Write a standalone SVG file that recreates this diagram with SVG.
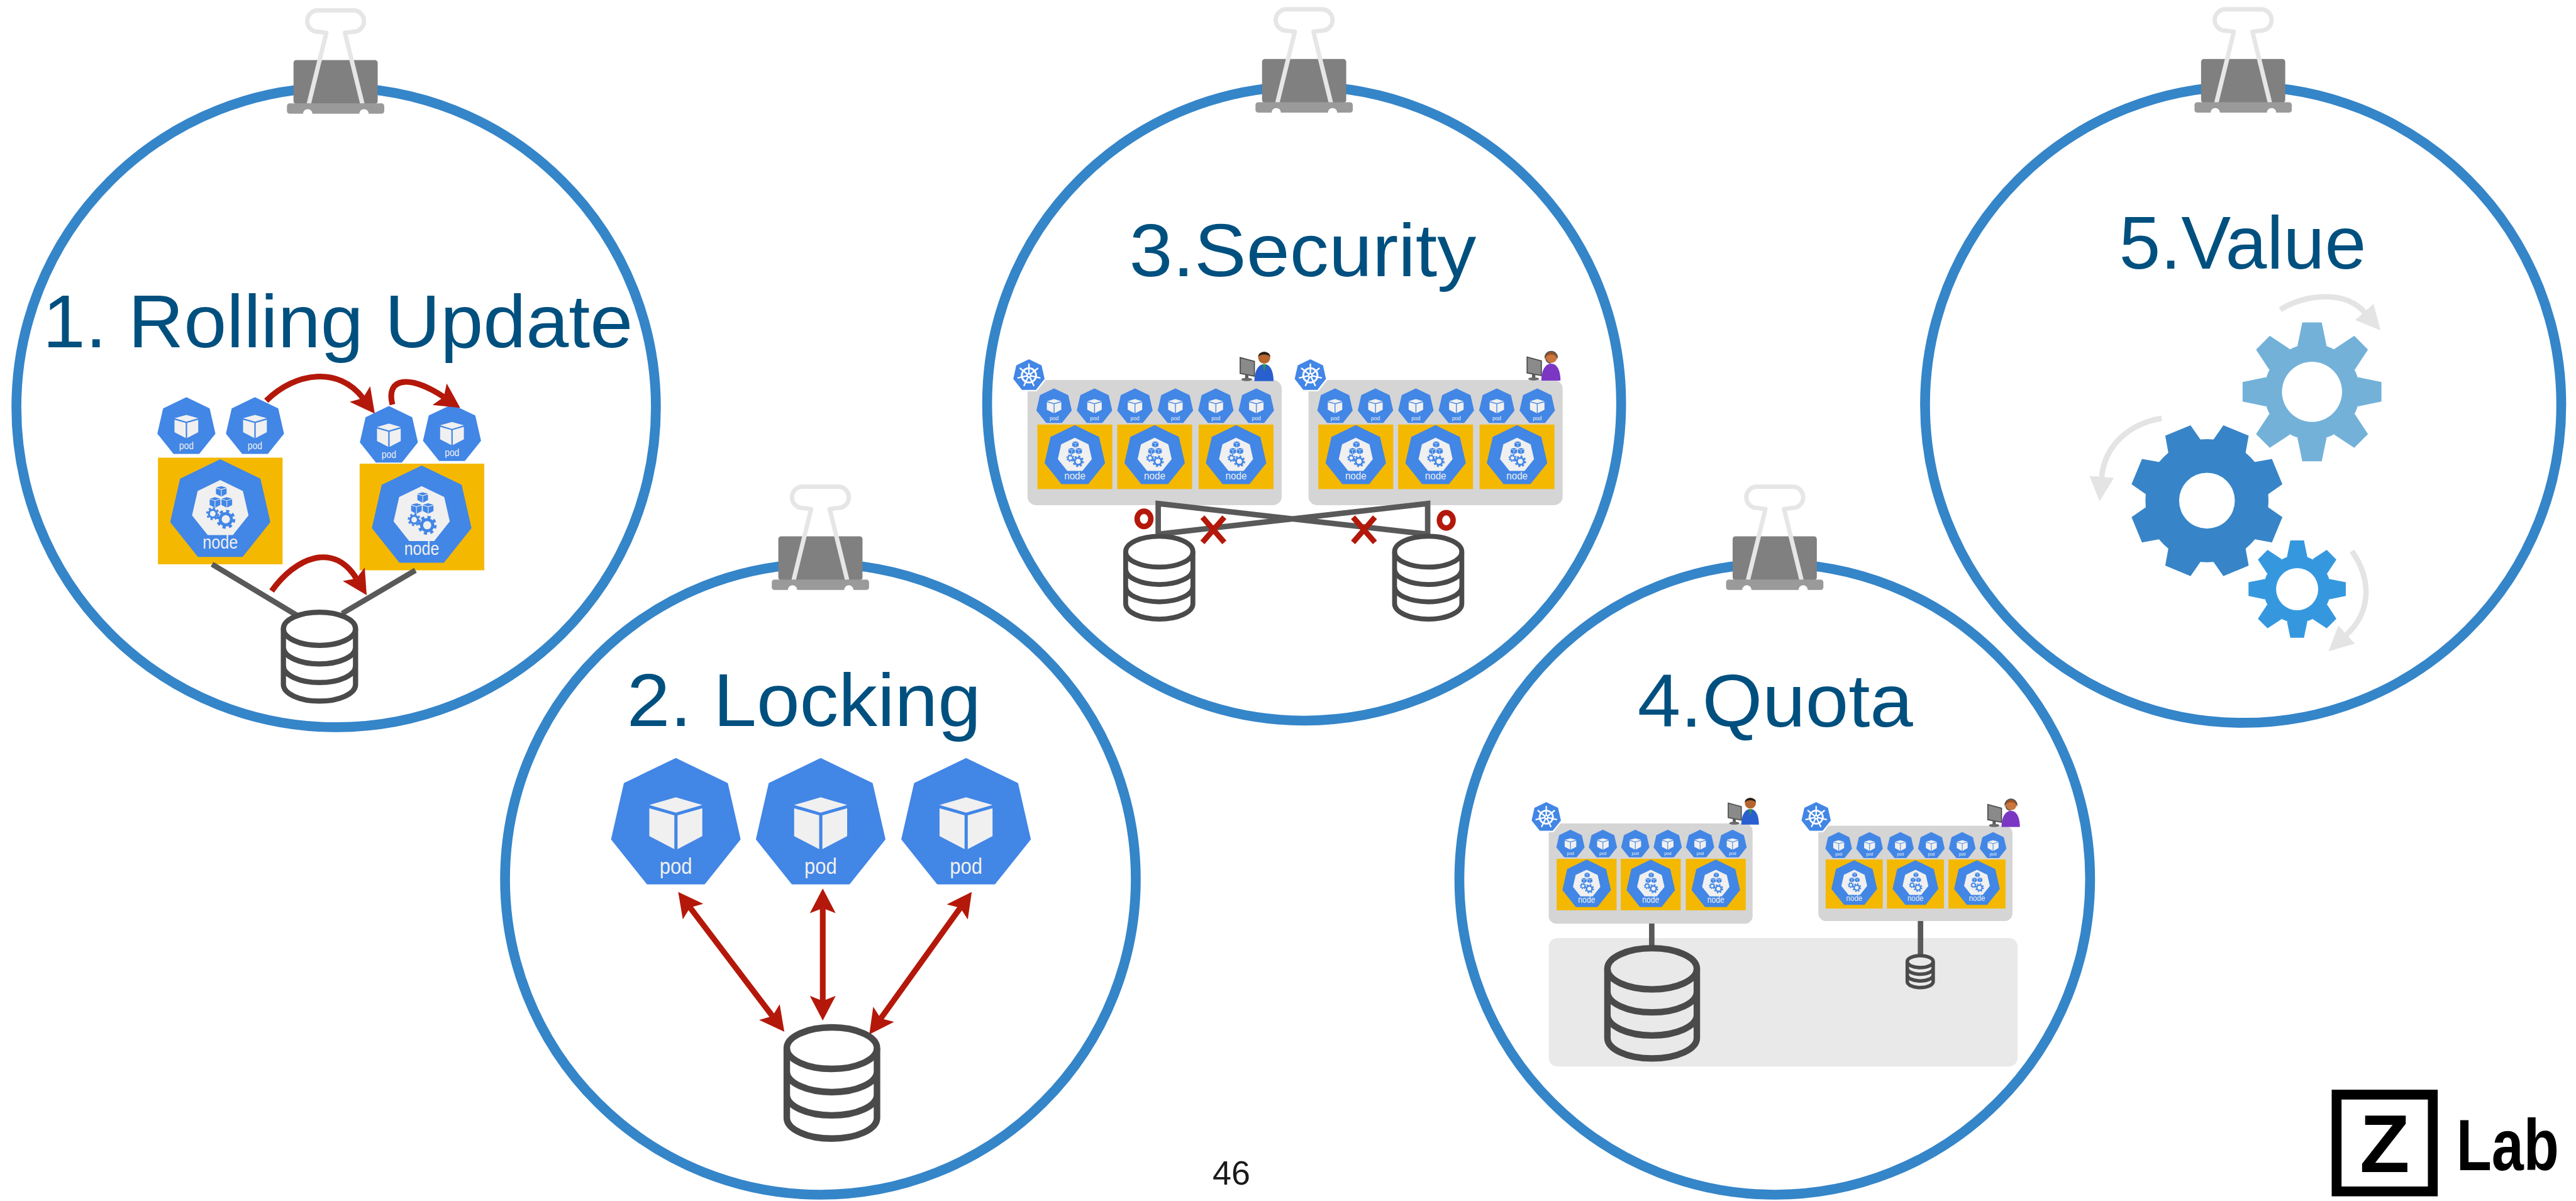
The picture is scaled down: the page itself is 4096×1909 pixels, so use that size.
<svg xmlns="http://www.w3.org/2000/svg" width="4096" height="1909" viewBox="0 0 4096 1909">
<defs>
<style>
  text { font-family: "Liberation Sans", Arial, "DejaVu Sans", sans-serif; }
  .ring { fill: none; stroke: #3585c9; stroke-width: 18; }
  .title { font-size: 136px; fill: #00507f; }
  .kb { fill: #4286e6; stroke: #4286e6; stroke-width: 4; stroke-linejoin: round; }
  .lbl { fill: #f0f0f0; text-anchor: middle; }
  .ybox { fill: #f5b800; }
  .panel { fill: #d5d5d5; }
  .pool { fill: #e9e9e9; }
  .wire { fill: none; stroke: #595959; stroke-width: 10; }
  .dbl { fill: none; stroke: #4a4a4a; }
  .red { fill: none; stroke: #b4180a; stroke-width: 10.5; }
  .mark { fill: none; stroke: #b4180a; stroke-width: 10; }
  .rot { fill: none; stroke: #e4e4e4; stroke-width: 10; }
</style>

<!-- red arrow heads (end and reversed start) -->
<marker id="redhead" viewBox="0 0 44 46" refX="9" refY="23" markerWidth="4.3" markerHeight="4.5" orient="auto" markerUnits="strokeWidth">
  <path d="M0,0 L44,23 L0,46 L9,23 Z" fill="#b4180a"/>
</marker>
<marker id="redtail" viewBox="0 0 44 46" refX="35" refY="23" markerWidth="4.3" markerHeight="4.5" orient="auto" markerUnits="strokeWidth">
  <path d="M44,0 L0,23 L44,46 L35,23 Z" fill="#b4180a"/>
</marker>
<marker id="grayhead" viewBox="0 0 46 46" refX="2" refY="23" markerWidth="4.5" markerHeight="4.5" orient="auto" markerUnits="strokeWidth">
  <path d="M0,0 L46,23 L0,46 Z" fill="#e4e4e4"/>
</marker>

<!-- binder clip, origin at top centre of a ring -->
<g id="clip">
  <rect x="-77" y="-50" width="154" height="80" rx="5" fill="#808080"/>
  <path d="M-49,30 L-17,-100 L-32.5,-102 A19.5,19.5 0 0 1 -32.5,-141 L32.5,-141 A19.5,19.5 0 0 1 32.5,-102 L17,-100 L49,30" fill="none" stroke="#e6e6e6" stroke-width="8" stroke-linejoin="round"/>
  <rect x="-89" y="29" width="178" height="19" rx="5" fill="#9a9a9a"/>
  <circle cx="-51" cy="48" r="8.5" fill="#fff"/>
  <circle cx="52" cy="48" r="8.5" fill="#fff"/>
</g>

<!-- isometric cube (pod glyph), unit = heptagon radius 100 -->
<g id="cube">
  <polygon points="-40.8,-30.1 0,-41.8 40.7,-30.1 0,-18.2"/>
  <polygon points="-40.8,-24.9 -2.3,-14.1 -2.3,37.9 -40.8,17.9"/>
  <polygon points="2.6,-14.1 40.7,-24.9 40.7,17.9 2.6,37.9"/>
</g>

<!-- small cog used inside node icon, outer radius 10 -->
<g id="cog">
  <circle r="7.5" fill="#4286e6"/>
  <circle r="8.6" fill="none" stroke="#4286e6" stroke-width="2.8" stroke-dasharray="3.38 3.38"/>
  <circle r="4.3" fill="#f0f0f0"/>
</g>

<!-- pod icon -->
<g id="pod">
  <polygon class="kb" points="0,-100 78.18,-62.35 97.49,22.25 43.39,90.1 -43.39,90.1 -97.49,22.25 -78.18,-62.35"/>
  <use href="#cube" fill="#f0f0f0"/>
  <text class="lbl" y="76" font-size="34" textLength="50" lengthAdjust="spacingAndGlyphs">pod</text>
</g>

<!-- node icon -->
<g id="node">
  <polygon class="kb" points="0,-100 78.18,-62.35 97.49,22.25 43.39,90.1 -43.39,90.1 -97.49,22.25 -78.18,-62.35"/>
  <polygon fill="#f0f0f0" points="0,-60.9 45.03,-39.21 56.15,9.52 24.99,48.6 -24.99,48.6 -56.15,9.52 -45.03,-39.21"/>
  <use href="#cube" fill="#4286e6" transform="translate(2,-38) scale(0.26)"/>
  <use href="#cube" fill="#4286e6" transform="translate(-10.5,-16) scale(0.26)"/>
  <use href="#cube" fill="#4286e6" transform="translate(13,-16) scale(0.26)"/>
  <use href="#cog" transform="translate(-15,6) scale(1.3)"/>
  <use href="#cog" transform="translate(11,17) scale(1.9)"/>
  <text class="lbl" y="76" font-size="36" textLength="70" lengthAdjust="spacingAndGlyphs">node</text>
</g>

<!-- kubernetes helm logo -->
<g id="k8s">
  <polygon points="0,-100 78.18,-62.35 97.49,22.25 43.39,90.1 -43.39,90.1 -97.49,22.25 -78.18,-62.35" fill="#4286e6" stroke="#fff" stroke-width="9" stroke-linejoin="round"/>
  <circle r="42" fill="none" stroke="#fff" stroke-width="11"/>
  <path d="M0,0 V-66 M0,0 L51.6,-41.1 M0,0 L64.3,14.7 M0,0 L28.6,59.5 M0,0 L-28.6,59.5 M0,0 L-64.3,14.7 M0,0 L-51.6,-41.1" stroke="#fff" stroke-width="9" stroke-linecap="round"/>
  <circle r="14" fill="#fff"/>
  <circle r="6" fill="#4286e6"/>
</g>

<!-- database cylinder; stroke width given by the instance -->
<g id="db">
  <ellipse class="dbl" cx="0" cy="0" rx="100" ry="46"/>
  <path class="dbl" d="M-100,0 V154.5 A100,46 0 0 0 100,154.5 V0 M-100,51.5 A100,46 0 0 0 100,51.5 M-100,103 A100,46 0 0 0 100,103"/>
</g>

<!-- operator at a monitor -->
<g id="user-a">
  <path d="M27,59 C27,41 34,28 45,28 C56,28 62,41 62,59 Z" fill="#2a5fcf"/>
  <path d="M42,28 L45,42 L48,28 Z" fill="#2d9a3a"/>
  <circle cx="45" cy="16" r="11" fill="#b5652d"/>
  <path d="M34,15 C33,3 57,3 56,15 C53,9 37,9 34,15 Z" fill="#1e1e1e"/>
  <polygon points="1,16 27,23 27,50 1,45" fill="#8a8a8a" stroke="#4a4a4a" stroke-width="2"/>
  <rect x="10" y="47" width="6" height="8" fill="#5a5a5a"/>
  <ellipse cx="13" cy="56" rx="10" ry="3" fill="#6a6a6a"/>
</g>
<g id="user-b">
  <path d="M27,59 C27,41 34,28 45,28 C56,28 62,41 62,59 Z" fill="#7b37c4"/>
  <circle cx="45" cy="16" r="11" fill="#c9773d"/>
  <path d="M33,20 C30,3 60,3 57,20 C55,10 37,8 33,20 Z" fill="#a4511d"/>
  <path d="M34,17 A11,11 0 0 1 56,17" fill="none" stroke="#555" stroke-width="2.5"/>
  <path d="M35,19 Q37,27 44,27" fill="none" stroke="#555" stroke-width="2"/>
  <polygon points="1,16 27,23 27,50 1,45" fill="#8a8a8a" stroke="#4a4a4a" stroke-width="2"/>
  <rect x="10" y="47" width="6" height="8" fill="#5a5a5a"/>
  <ellipse cx="13" cy="56" rx="10" ry="3" fill="#6a6a6a"/>
</g>

<!-- big cogs -->
<polygon id="toothA" points="-14,-100 14,-100 21,-66 -21,-66"/>
<polygon id="toothB" points="-18,-100 18,-100 23,-77 -23,-77"/>
<g id="gearA">
  <circle r="69"/>
  <use href="#toothA"/>
  <use href="#toothA" transform="rotate(45)"/>
  <use href="#toothA" transform="rotate(90)"/>
  <use href="#toothA" transform="rotate(135)"/>
  <use href="#toothA" transform="rotate(180)"/>
  <use href="#toothA" transform="rotate(225)"/>
  <use href="#toothA" transform="rotate(270)"/>
  <use href="#toothA" transform="rotate(315)"/>
  <circle r="43.3" fill="#fff"/>
</g>
<g id="gearB">
  <circle r="81"/>
  <use href="#toothB" transform="rotate(22.5)"/>
  <use href="#toothB" transform="rotate(67.5)"/>
  <use href="#toothB" transform="rotate(112.5)"/>
  <use href="#toothB" transform="rotate(157.5)"/>
  <use href="#toothB" transform="rotate(202.5)"/>
  <use href="#toothB" transform="rotate(247.5)"/>
  <use href="#toothB" transform="rotate(292.5)"/>
  <use href="#toothB" transform="rotate(337.5)"/>
  <circle r="36.7" fill="#fff"/>
</g>
</defs>

<rect width="4096" height="1909" fill="#fff"/>

<g transform="scale(0.86909)">

  <!-- five rings with binder clips -->
  <g id="frames">
    <circle class="ring" cx="615" cy="745" r="585"/>
    <circle class="ring" cx="1501" cy="1608" r="577"/>
    <circle class="ring" cx="2386" cy="738" r="580"/>
    <circle class="ring" cx="3247" cy="1608" r="577"/>
    <circle class="ring" cx="4104" cy="740" r="582"/>
    <use href="#clip" transform="translate(614,160)"/>
    <use href="#clip" transform="translate(1501,1031)"/>
    <use href="#clip" transform="translate(2386,158)"/>
    <use href="#clip" transform="translate(3247,1031)"/>
    <use href="#clip" transform="translate(4104,158)"/>
  </g>

  <g id="titles">
    <text class="title" x="78" y="635" textLength="1080" lengthAdjust="spacingAndGlyphs">1. Rolling Update</text>
    <text class="title" x="1147" y="1328" textLength="648" lengthAdjust="spacingAndGlyphs">2. Locking</text>
    <text class="title" x="2066" y="505" textLength="635" lengthAdjust="spacingAndGlyphs">3.Security</text>
    <text class="title" x="2996" y="1329" textLength="504" lengthAdjust="spacingAndGlyphs">4.Quota</text>
    <text class="title" x="3877" y="491" textLength="452" lengthAdjust="spacingAndGlyphs">5.Value</text>
  </g>

  <!-- 1. rolling update -->
  <g id="rolling-update">
    <rect id="ru-box-1" class="ybox" x="289" y="837" width="228" height="195"/>
    <rect id="ru-box-2" class="ybox" x="658" y="848" width="228" height="195"/>
    <use id="ru-node-1" href="#node" transform="translate(403,934) scale(0.92)"/>
    <use id="ru-node-2" href="#node" transform="translate(771.5,945) scale(0.915)"/>
    <use id="ru-pod-1" href="#pod" transform="translate(341,781) scale(0.533)"/>
    <use id="ru-pod-2" href="#pod" transform="translate(466.5,781) scale(0.533)"/>
    <use id="ru-pod-3" href="#pod" transform="translate(711.5,797) scale(0.533)"/>
    <use id="ru-pod-4" href="#pod" transform="translate(827,794) scale(0.533)"/>
  </g>

  <!-- 2. locking -->
  <g id="locking">
    <use id="lk-pod-1" href="#pod" transform="translate(1236.5,1508) scale(1.19)"/>
    <use id="lk-pod-2" href="#pod" transform="translate(1501.5,1508) scale(1.19)"/>
    <use id="lk-pod-3" href="#pod" transform="translate(1767.5,1508) scale(1.19)"/>
  </g>

  <!-- 3. security: two clusters -->
  <g id="security">
    <g id="sec-cluster-a">
      <rect class="panel" x="1880" y="695" width="465" height="229" rx="16"/>
      <use href="#pod" transform="translate(1928.5,743.5) scale(0.325)"/>
      <use href="#pod" transform="translate(2002.5,743.5) scale(0.325)"/>
      <use href="#pod" transform="translate(2076.5,743.5) scale(0.325)"/>
      <use href="#pod" transform="translate(2150.5,743.5) scale(0.325)"/>
      <use href="#pod" transform="translate(2224.5,743.5) scale(0.325)"/>
      <use href="#pod" transform="translate(2298.5,743.5) scale(0.325)"/>
      <rect class="ybox" x="1898" y="776.5" width="137" height="118"/>
      <rect class="ybox" x="2044" y="776.5" width="137" height="118"/>
      <rect class="ybox" x="2193" y="776.5" width="137" height="118"/>
      <use href="#node" transform="translate(1966.5,834.3) scale(0.555)"/>
      <use href="#node" transform="translate(2112.5,834.3) scale(0.555)"/>
      <use href="#node" transform="translate(2261.5,834.3) scale(0.555)"/>
      <use href="#k8s" transform="translate(1882.5,686.5) scale(0.31)"/>
      <use href="#user-a" transform="translate(2268,638)"/>
    </g>
    <g id="sec-cluster-b">
      <rect class="panel" x="2394" y="695" width="465" height="229" rx="16"/>
      <use href="#pod" transform="translate(2442.5,743.5) scale(0.325)"/>
      <use href="#pod" transform="translate(2516.5,743.5) scale(0.325)"/>
      <use href="#pod" transform="translate(2590.5,743.5) scale(0.325)"/>
      <use href="#pod" transform="translate(2664.5,743.5) scale(0.325)"/>
      <use href="#pod" transform="translate(2738.5,743.5) scale(0.325)"/>
      <use href="#pod" transform="translate(2812.5,743.5) scale(0.325)"/>
      <rect class="ybox" x="2412" y="776.5" width="137" height="118"/>
      <rect class="ybox" x="2558" y="776.5" width="137" height="118"/>
      <rect class="ybox" x="2707" y="776.5" width="137" height="118"/>
      <use href="#node" transform="translate(2480.5,834.3) scale(0.555)"/>
      <use href="#node" transform="translate(2626.5,834.3) scale(0.555)"/>
      <use href="#node" transform="translate(2775.5,834.3) scale(0.555)"/>
      <use href="#k8s" transform="translate(2397.4,686.5) scale(0.31)"/>
      <use href="#user-b" transform="translate(2793,637)"/>
    </g>
  </g>

  <!-- 4. quota: two clusters over a shared storage pool -->
  <g id="quota">
    <rect id="quota-pool" class="pool" x="2833.5" y="1715.5" width="858" height="235" rx="16"/>
    <g id="quota-cluster-a">
      <rect class="panel" x="2833.5" y="1506" width="373" height="183.5" rx="14"/>
      <use href="#pod" transform="translate(2873.3,1544) scale(0.26)"/>
      <use href="#pod" transform="translate(2932.6,1544) scale(0.26)"/>
      <use href="#pod" transform="translate(2991.9,1544) scale(0.26)"/>
      <use href="#pod" transform="translate(3051.2,1544) scale(0.26)"/>
      <use href="#pod" transform="translate(3110.5,1544) scale(0.26)"/>
      <use href="#pod" transform="translate(3169.8,1544) scale(0.26)"/>
      <rect class="ybox" x="2848" y="1570.8" width="109.7" height="94"/>
      <rect class="ybox" x="2965.3" y="1570.8" width="109.7" height="94"/>
      <rect class="ybox" x="3084.3" y="1570.8" width="109.7" height="94"/>
      <use href="#node" transform="translate(2902.9,1617.8) scale(0.446)"/>
      <use href="#node" transform="translate(3020.2,1617.8) scale(0.446)"/>
      <use href="#node" transform="translate(3139.2,1617.8) scale(0.446)"/>
      <use href="#k8s" transform="translate(2829,1494.5) scale(0.29)"/>
      <use href="#user-a" transform="translate(3161,1454) scale(0.92)"/>
    </g>
    <g id="quota-cluster-b">
      <rect class="panel" x="3326.8" y="1510.2" width="355.2" height="174.3" rx="14"/>
      <use href="#pod" transform="translate(3364,1546.8) scale(0.245)"/>
      <use href="#pod" transform="translate(3420.5,1546.8) scale(0.245)"/>
      <use href="#pod" transform="translate(3477,1546.8) scale(0.245)"/>
      <use href="#pod" transform="translate(3533.5,1546.8) scale(0.245)"/>
      <use href="#pod" transform="translate(3590,1546.8) scale(0.245)"/>
      <use href="#pod" transform="translate(3646.5,1546.8) scale(0.245)"/>
      <rect class="ybox" x="3340.2" y="1571.9" width="104.5" height="89.8"/>
      <rect class="ybox" x="3452.2" y="1571.9" width="104.5" height="89.8"/>
      <rect class="ybox" x="3564.8" y="1571.9" width="104.5" height="89.8"/>
      <use href="#node" transform="translate(3392.5,1616.3) scale(0.42)"/>
      <use href="#node" transform="translate(3504.5,1616.3) scale(0.42)"/>
      <use href="#node" transform="translate(3617,1616.3) scale(0.42)"/>
      <use href="#k8s" transform="translate(3322.8,1494.5) scale(0.29)"/>
      <use href="#user-b" transform="translate(3636,1456) scale(0.96)"/>
    </g>
  </g>

  <!-- connectors -->
  <g id="connectors">
    <path class="wire" d="M388,1032 L544,1126 M760,1043 L626,1122"/>
    <path class="wire" stroke-width="9" d="M2119,984 V921 L2612,977 M2612,984 V921 L2119,977"/>
    <path class="wire" d="M3022,1689 V1733 M3513.7,1684.5 V1748"/>
    <path class="red" stroke-width="10" marker-end="url(#redhead)" d="M487,733 C540,680 620,670 664,728"/>
    <path class="red" stroke-width="10" marker-end="url(#redhead)" d="M718,740 C705,690 750,685 812,726"/>
    <path class="red" stroke-width="10" marker-end="url(#redhead)" d="M497,1081 C540,1020 610,990 652,1058"/>
    <path class="red" marker-start="url(#redtail)" marker-end="url(#redhead)" d="M1262.5,1659.9 L1413.3,1858.4"/>
    <path class="red" marker-start="url(#redtail)" marker-end="url(#redhead)" d="M1505.3,1661 L1505.3,1830.6"/>
    <path class="red" marker-start="url(#redtail)" marker-end="url(#redhead)" d="M1756.9,1660.4 L1611.4,1862.7"/>
    <path class="rot" marker-end="url(#grayhead)" d="M4172,566 C4220,538 4290,530 4327,572"/>
    <path class="rot" marker-end="url(#grayhead)" d="M3955,765 C3895,775 3850,815 3845,874"/>
    <path class="rot" marker-end="url(#grayhead)" d="M4303,1008 C4338,1058 4340,1118 4292,1162"/>
  </g>

  <!-- data stores -->
  <g id="stores">
    <use id="ru-db" href="#db" stroke-width="14.5" transform="translate(584.5,1150) scale(0.66)"/>
    <use id="lk-db" href="#db" stroke-width="14.5" transform="translate(1522,1917) scale(0.825)"/>
    <use id="sec-db-a" href="#db" stroke-width="14.5" transform="translate(2121,1009) scale(0.615)"/>
    <use id="sec-db-b" href="#db" stroke-width="14.5" transform="translate(2613,1009) scale(0.615)"/>
    <use id="quota-db-a" href="#db" stroke-width="14.5" transform="translate(3022.7,1771.8) scale(0.818)"/>
    <use id="quota-db-b" href="#db" stroke-width="27" transform="translate(3513.2,1758.7) scale(0.237)"/>
  </g>

  <!-- allowed / denied marks -->
  <g id="marks">
    <ellipse class="mark" stroke-width="11" cx="2093" cy="949" rx="12.5" ry="14"/>
    <ellipse class="mark" stroke-width="11" cx="2646" cy="951.7" rx="12.5" ry="14"/>
    <path class="mark" d="M2200,946 L2240,992 M2240,946 L2200,992"/>
    <path class="mark" d="M2475.5,946 L2515.5,992 M2515.5,946 L2475.5,992"/>
  </g>

  <!-- 5. value: cogs -->
  <g id="value">
    <use id="gear-light" href="#gearA" fill="#73b1d9" transform="translate(4230,716.6) scale(1.27)"/>
    <use id="gear-main" href="#gearB" fill="#3785c8" transform="translate(4037.8,915.7) scale(1.39)"/>
    <use id="gear-small" href="#gearA" fill="#3598df" transform="translate(4202.8,1077.5) scale(0.89)"/>
  </g>

  <!-- footer -->
  <g id="footer">
    <text x="2253" y="2167" font-size="62" text-anchor="middle" fill="#1a1a1a">46</text>
    <rect x="4275" y="2002" width="176" height="177" fill="none" stroke="#000" stroke-width="18"/>
    <text x="4363" y="2144" font-size="150" font-weight="bold" text-anchor="middle" fill="#000">Z</text>
    <text transform="translate(4494,2140) scale(0.8,1)" font-size="132" font-weight="bold" fill="#000">Lab</text>
  </g>
</g>
</svg>
